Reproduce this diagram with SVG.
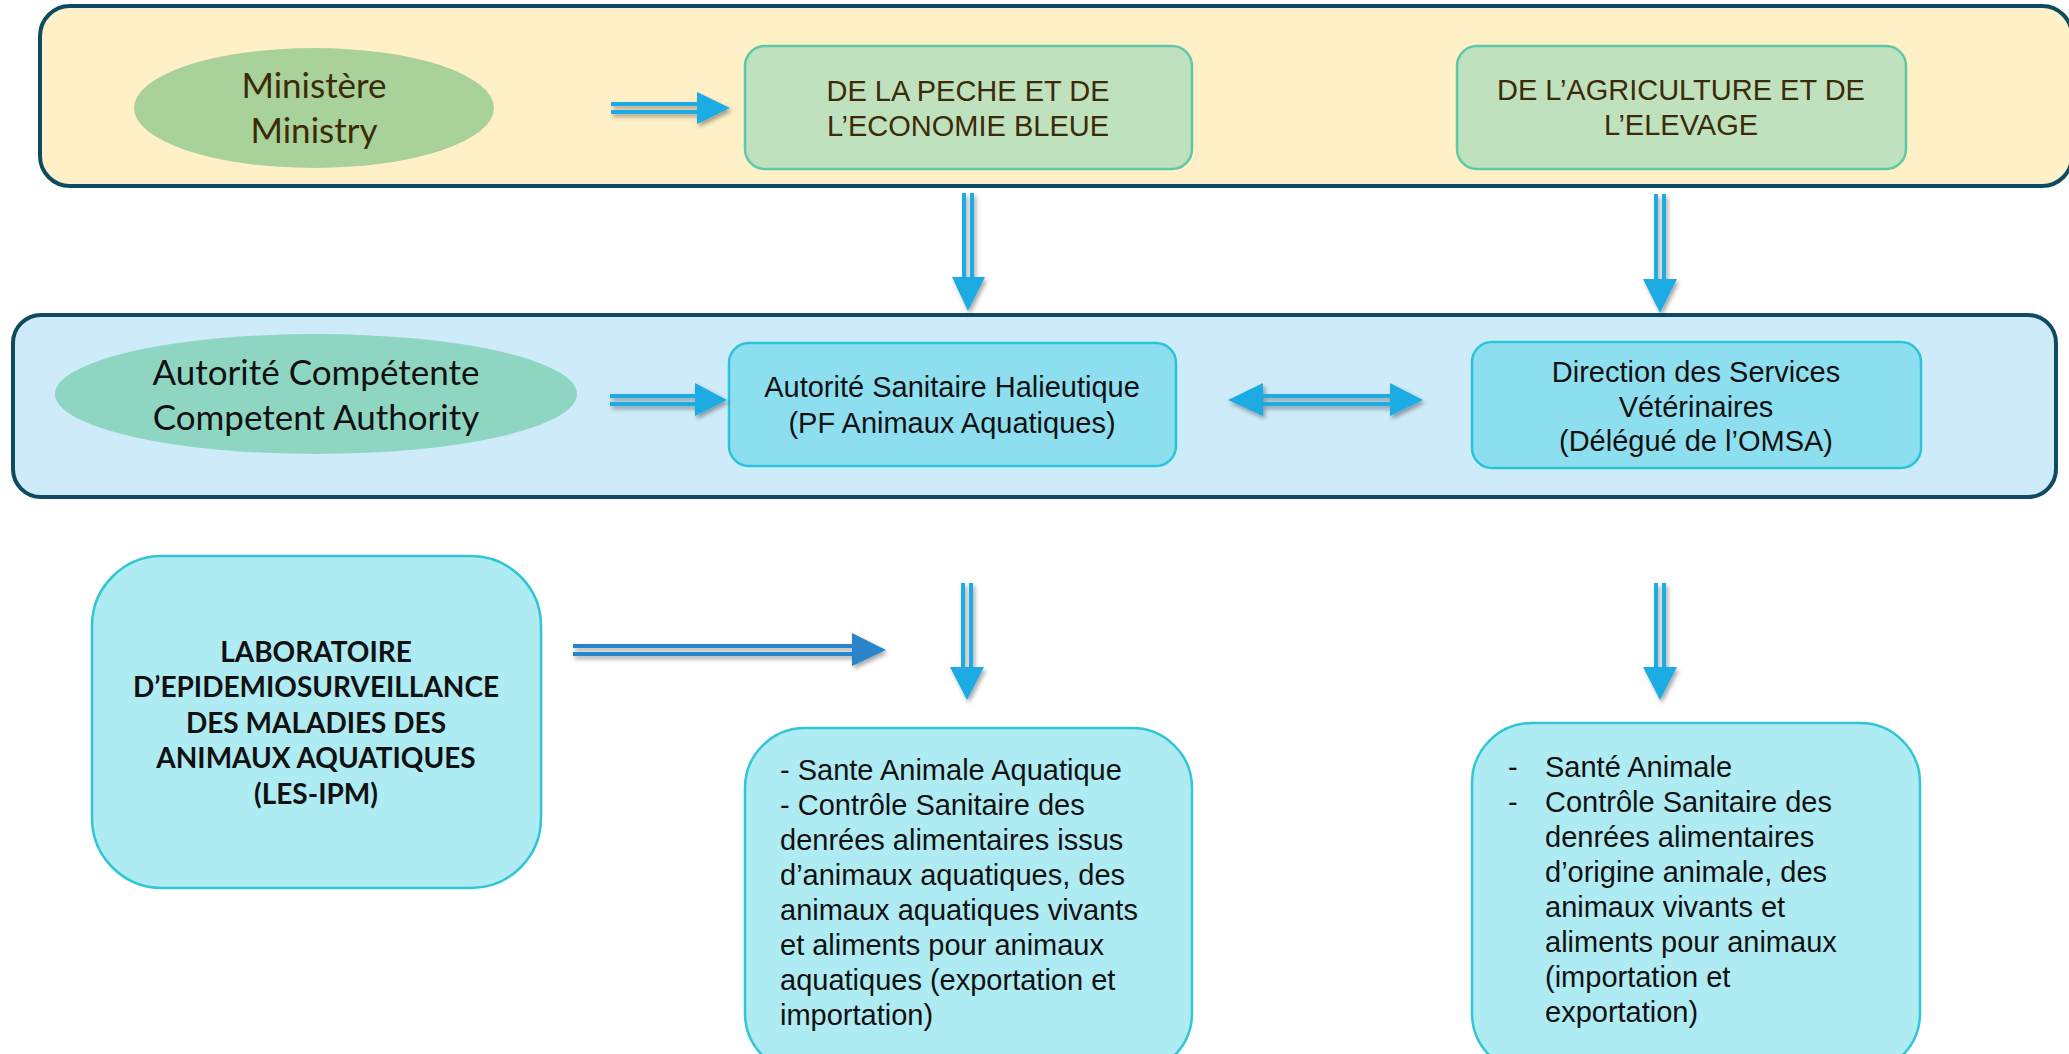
<svg xmlns="http://www.w3.org/2000/svg" width="2069" height="1054" viewBox="0 0 2069 1054">
<defs>
<style>
.panel{stroke:#0e4a62;stroke-width:4}
.cal{font-family:Lato,"Open Sans","Liberation Sans",sans-serif;font-size:35px;text-anchor:middle}
.ar{font-family:"Liberation Sans",Arial,sans-serif;font-size:29px}
.mid{text-anchor:middle}
.brown{fill:#3b2b08}
.dark{fill:#111}
.gbox{fill:#c0e1bd;stroke:#5ccaa6;stroke-width:2.5}
.bbox{fill:#8ddff0;stroke:#2cc3d9;stroke-width:2.5}
.lbox{fill:#afebf2;stroke:#30c6d6;stroke-width:2.5}
.ln{stroke:#1eabe3;stroke-width:4;fill:none}
.hd{fill:#1eabe3}
.ln2{stroke:#2a84c9;stroke-width:4;fill:none}
.hd2{fill:#2a84c9}
</style>
<filter id="sh" x="-20%" y="-20%" width="140%" height="140%">
<feDropShadow dx="2" dy="3" stdDeviation="2" flood-color="#000" flood-opacity="0.35"/>
</filter>
</defs>
<rect width="2069" height="1054" fill="#ffffff"/>

<g id="panel-ministere">
<rect class="panel" x="40" y="6" width="2032" height="180" rx="30" fill="#fff0c8"/>
</g>
<g id="panel-autorite">
<rect class="panel" x="13" y="315" width="2043" height="182" rx="28" fill="#cdebf8"/>
</g>

<g id="node-ministere">
<ellipse cx="314" cy="108" rx="180" ry="60" fill="#a9d29a"/>
<text class="cal brown" x="314" y="98">Ministère</text>
<text class="cal brown" x="314" y="143">Ministry</text>
</g>

<g id="node-peche">
<rect class="gbox" x="745" y="46" width="447" height="123" rx="20"/>
<text class="ar mid brown" x="968" y="101">DE LA PECHE ET DE</text>
<text class="ar mid brown" x="968" y="136">L’ECONOMIE BLEUE</text>
</g>

<g id="node-agriculture">
<rect class="gbox" x="1457" y="46" width="449" height="123" rx="20"/>
<text class="ar mid brown" x="1681" y="100">DE L’AGRICULTURE ET DE</text>
<text class="ar mid brown" x="1681" y="135">L’ELEVAGE</text>
</g>

<g id="node-autorite-competente">
<ellipse cx="316" cy="394" rx="261" ry="60" fill="#8fd6c2"/>
<text class="cal dark" x="316" y="385">Autorité Compétente</text>
<text class="cal dark" x="316" y="430">Competent Authority</text>
</g>

<g id="node-ash">
<rect class="bbox" x="729" y="343" width="447" height="123" rx="20"/>
<text class="ar mid dark" x="952" y="397">Autorité Sanitaire Halieutique</text>
<text class="ar mid dark" x="952" y="433">(PF Animaux Aquatiques)</text>
</g>

<g id="node-dsv">
<rect class="bbox" x="1472" y="342" width="449" height="126" rx="20"/>
<text class="ar mid dark" x="1696" y="382">Direction des Services</text>
<text class="ar mid dark" x="1696" y="417">Vétérinaires</text>
<text class="ar mid dark" x="1696" y="451">(Délégué de l’OMSA)</text>
</g>

<g id="node-les-ipm">
<rect class="lbox" x="92" y="556" width="449" height="332" rx="70"/>
<g font-family="Lato,'Open Sans','Liberation Sans',sans-serif" font-size="28" font-weight="bold" text-anchor="middle" fill="#111">
<text x="316" y="662">LABORATOIRE</text>
<text x="316" y="697">D’EPIDEMIOSURVEILLANCE</text>
<text x="316" y="733">DES MALADIES DES</text>
<text x="316" y="768">ANIMAUX AQUATIQUES</text>
<text x="316" y="804">(LES-IPM)</text>
</g>
</g>

<g id="node-missions-peche">
<rect class="lbox" x="745" y="728" width="447" height="345" rx="60"/>
<g class="ar dark">
<text x="780" y="780">- Sante Animale Aquatique</text>
<text x="780" y="815">- Contrôle Sanitaire des</text>
<text x="780" y="850">denrées alimentaires issus</text>
<text x="780" y="885">d’animaux aquatiques, des</text>
<text x="780" y="920">animaux aquatiques vivants</text>
<text x="780" y="955">et aliments pour animaux</text>
<text x="780" y="990">aquatiques (exportation et</text>
<text x="780" y="1025">importation)</text>
</g>
</g>

<g id="node-missions-dsv">
<rect class="lbox" x="1472" y="723" width="448" height="350" rx="60"/>
<g class="ar dark">
<text x="1508" y="777">-</text>
<text x="1545" y="777">Santé Animale</text>
<text x="1508" y="812">-</text>
<text x="1545" y="812">Contrôle Sanitaire des</text>
<text x="1545" y="847">denrées alimentaires</text>
<text x="1545" y="882">d’origine animale, des</text>
<text x="1545" y="917">animaux vivants et</text>
<text x="1545" y="952">aliments pour animaux</text>
<text x="1545" y="987">(importation et</text>
<text x="1545" y="1022">exportation)</text>
</g>
</g>

<g id="connectors" filter="url(#sh)">
<path class="ln" d="M611 104H698M611 112H698"/>
<path class="hd" d="M697 92L730 108L697 124Z"/>
<path class="ln" d="M610 396H696M610 404H696"/>
<path class="hd" d="M695 383L727 400L695 416Z"/>
<path class="ln" d="M1262 396H1391M1262 404H1391"/>
<path class="hd" d="M1228 400L1263 383L1263 416Z"/>
<path class="hd" d="M1423 400L1390 383L1390 416Z"/>
<path class="ln" d="M964 193V278M972 193V278"/>
<path class="hd" d="M952 277H985L968 311Z"/>
<path class="ln" d="M1656 194V280M1664 194V280"/>
<path class="hd" d="M1643 279H1677L1660 313Z"/>
<path class="ln" d="M963 583V668M971 583V668"/>
<path class="hd" d="M950 667H984L967 700Z"/>
<path class="ln" d="M1656 583V668M1664 583V668"/>
<path class="hd" d="M1643 667H1677L1660 700Z"/>
<path class="ln2" d="M573 646H853M573 654H853"/>
<path class="hd2" d="M852 633L886 650L852 666Z"/>
</g>
</svg>
